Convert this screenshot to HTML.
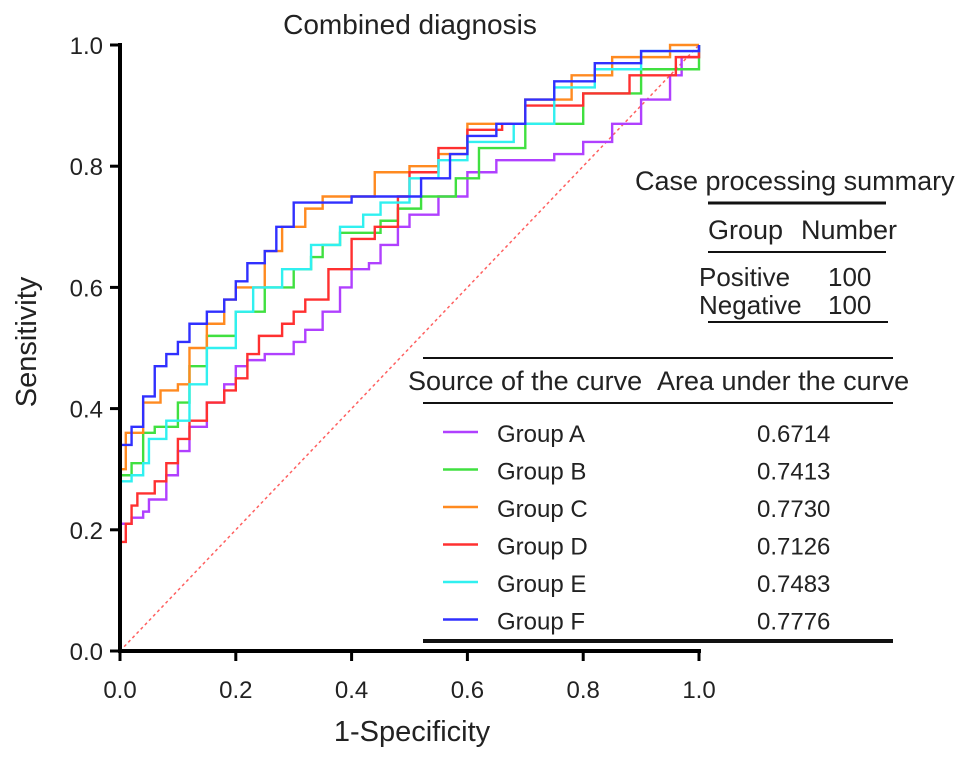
<!DOCTYPE html>
<html><head><meta charset="utf-8">
<style>
html,body{margin:0;padding:0;background:#fff;}
svg{display:block;font-family:"Liberation Sans",Arial,sans-serif;}
</style></head>
<body>
<svg id="chart" width="969" height="759" viewBox="0 0 969 759">
  <text x="410" y="34" font-size="28" text-anchor="middle" fill="#222">Combined diagnosis</text>
  <g id="plot"></g>
  <g id="axes"></g>
  <text transform="translate(36,342) rotate(-90)" font-size="29" text-anchor="middle" fill="#222">Sensitivity</text>
  <text x="412" y="741" font-size="29" text-anchor="middle" fill="#222">1-Specificity</text>
  <g font-size="27" fill="#222">
    <text x="635" y="190">Case processing summary</text>
    <line x1="708" y1="203" x2="886" y2="203" stroke="#111" stroke-width="3"/>
    <text x="708" y="239">Group</text>
    <text x="801" y="239">Number</text>
    <line x1="708" y1="252" x2="886" y2="252" stroke="#111" stroke-width="2"/>
    <text x="699" y="286" font-size="26">Positive</text>
    <text x="828" y="286" font-size="26">100</text>
    <text x="699" y="314" font-size="26">Negative</text>
    <text x="828" y="314" font-size="26">100</text>
    <line x1="708" y1="322" x2="888" y2="322" stroke="#111" stroke-width="2"/>
  </g>
  <g id="legend" font-size="24" fill="#222">
    <line x1="423" y1="358" x2="893" y2="358" stroke="#111" stroke-width="2"/>
    <text x="408" y="390" font-size="27">Source of the curve</text>
    <text x="657" y="390" font-size="27">Area under the curve</text>
    <line x1="423" y1="403" x2="893" y2="403" stroke="#111" stroke-width="2"/>
    <line x1="423" y1="641" x2="893" y2="641" stroke="#111" stroke-width="4"/>
  </g>
</svg>
<script>
const groupNames=["Group A","Group B","Group C","Group D","Group E","Group F"];
const aucValues=["0.6714","0.7413","0.7730","0.7126","0.7483","0.7776"];
const colors=["#b040ff","#40e040","#ff8a20","#ff3030","#30f0f0","#3030ff"];
const xTicks=[0,0.2,0.4,0.6,0.8,1.0];
const yTicks=[0,0.2,0.4,0.6,0.8,1.0];
const fprA=[0,0.02,0.04,0.05,0.08,0.1,0.12,0.15,0.18,0.2,0.22,0.25,0.3,0.32,0.35,0.38,0.4,0.43,0.45,0.48,0.5,0.55,0.6,0.65,0.75,0.8,0.85,0.9,0.95,0.97,1];
const tprA=[0.21,0.22,0.23,0.25,0.29,0.33,0.37,0.41,0.44,0.47,0.48,0.49,0.51,0.53,0.56,0.6,0.63,0.64,0.67,0.7,0.72,0.75,0.79,0.81,0.82,0.84,0.87,0.91,0.95,0.98,1];
const fprB=[0,0.02,0.04,0.06,0.1,0.12,0.15,0.2,0.25,0.3,0.33,0.35,0.38,0.45,0.48,0.52,0.58,0.62,0.7,0.8,0.9,1];
const tprB=[0.29,0.31,0.36,0.37,0.41,0.47,0.52,0.56,0.6,0.63,0.65,0.67,0.69,0.71,0.73,0.75,0.78,0.83,0.87,0.92,0.96,1];
const fprC=[0,0.01,0.04,0.07,0.1,0.12,0.15,0.18,0.2,0.25,0.28,0.32,0.35,0.43,0.44,0.5,0.55,0.6,0.7,0.78,0.85,0.95,1];
const tprC=[0.3,0.36,0.41,0.43,0.44,0.5,0.54,0.58,0.6,0.66,0.7,0.73,0.75,0.75,0.79,0.8,0.82,0.87,0.91,0.95,0.98,1,1];
const fprD=[0,0.01,0.02,0.03,0.06,0.08,0.1,0.12,0.15,0.18,0.2,0.22,0.24,0.28,0.3,0.32,0.36,0.4,0.44,0.48,0.5,0.55,0.6,0.66,0.7,0.8,0.88,0.96,1];
const tprD=[0.18,0.21,0.24,0.26,0.28,0.31,0.35,0.38,0.41,0.43,0.45,0.49,0.52,0.54,0.56,0.58,0.63,0.68,0.7,0.75,0.79,0.83,0.86,0.87,0.9,0.92,0.95,0.98,1];
const fprE=[0,0.02,0.04,0.05,0.08,0.12,0.15,0.2,0.23,0.28,0.33,0.38,0.42,0.45,0.5,0.55,0.6,0.68,0.75,0.82,0.9,1];
const tprE=[0.28,0.29,0.31,0.35,0.38,0.44,0.5,0.56,0.6,0.63,0.67,0.7,0.72,0.74,0.78,0.81,0.84,0.87,0.93,0.96,0.99,1];
const fprF=[0,0.02,0.04,0.06,0.08,0.1,0.12,0.15,0.18,0.2,0.22,0.25,0.27,0.3,0.4,0.5,0.52,0.57,0.6,0.65,0.7,0.75,0.82,0.9,1];
const tprF=[0.34,0.37,0.42,0.47,0.49,0.51,0.54,0.56,0.58,0.61,0.64,0.66,0.7,0.74,0.75,0.75,0.78,0.82,0.85,0.87,0.91,0.94,0.97,0.99,1];
const fprs=[fprA,fprB,fprC,fprD,fprE,fprF];
const tprs=[tprA,tprB,tprC,tprD,tprE,tprF];

const NS="http://www.w3.org/2000/svg";
const X0=120,X1=699,Y0=651,Y1=45;
function sx(v){return X0+(X1-X0)*v;}
function sy(v){return Y0-(Y0-Y1)*v;}
function mk(tag,attrs,parent){const e=document.createElementNS(NS,tag);for(const k in attrs)e.setAttribute(k,attrs[k]);parent.appendChild(e);return e;}
const plot=document.getElementById('plot');
const axes=document.getElementById('axes');
const legend=document.getElementById('legend');

const diag=mk('line',{x1:sx(0),y1:sy(0),x2:sx(1),y2:sy(1),stroke:'#ff6060','stroke-width':1.5,'stroke-dasharray':'3,3'},plot);



for(let i=0;i<6;i++){
  const f=fprs[i],t=tprs[i];
  let d='M'+sx(0)+','+sy(0)+' L'+sx(f[0])+','+sy(t[0]);
  for(let j=1;j<f.length;j++){
    d+=' L'+sx(f[j])+','+sy(t[j-1])+' L'+sx(f[j])+','+sy(t[j]);
  }
  const p=mk('path',{d:d,fill:'none',stroke:colors[i],'stroke-width':2.4},plot);
  
  

  const ly=442+i*37.5;
  const ll=mk('line',{x1:443,y1:ly-10,x2:478,y2:ly-10,stroke:colors[i],'stroke-width':2.5},legend);
  
  
  const lt=mk('text',{x:497,y:ly},legend);lt.textContent=groupNames[i];
  
  
  const av=mk('text',{x:757,y:ly},legend);av.textContent=aucValues[i];
  
  
}

const ya=mk('line',{x1:X0,y1:Y1-2,x2:X0,y2:Y0+2,stroke:'#000','stroke-width':4},axes);


const xa=mk('line',{x1:X0-2,y1:Y0,x2:X1+2,y2:Y0,stroke:'#000','stroke-width':4},axes);


xTicks.forEach(v=>{
  const tk=mk('line',{x1:sx(v),y1:Y0,x2:sx(v),y2:Y0+10,stroke:'#000','stroke-width':3},axes);
  
  
  const tl=mk('text',{x:sx(v),y:Y0+47,'font-size':24,'text-anchor':'middle',fill:'#222'},axes);tl.textContent=v.toFixed(1);
  
  
});
yTicks.forEach(v=>{
  const tk=mk('line',{x1:X0-10,y1:sy(v),x2:X0,y2:sy(v),stroke:'#000','stroke-width':3},axes);
  
  
  const tl=mk('text',{x:X0-17,y:sy(v)+9,'font-size':24,'text-anchor':'end',fill:'#222'},axes);tl.textContent=v.toFixed(1);
  
  
});
</script>
</body></html>
